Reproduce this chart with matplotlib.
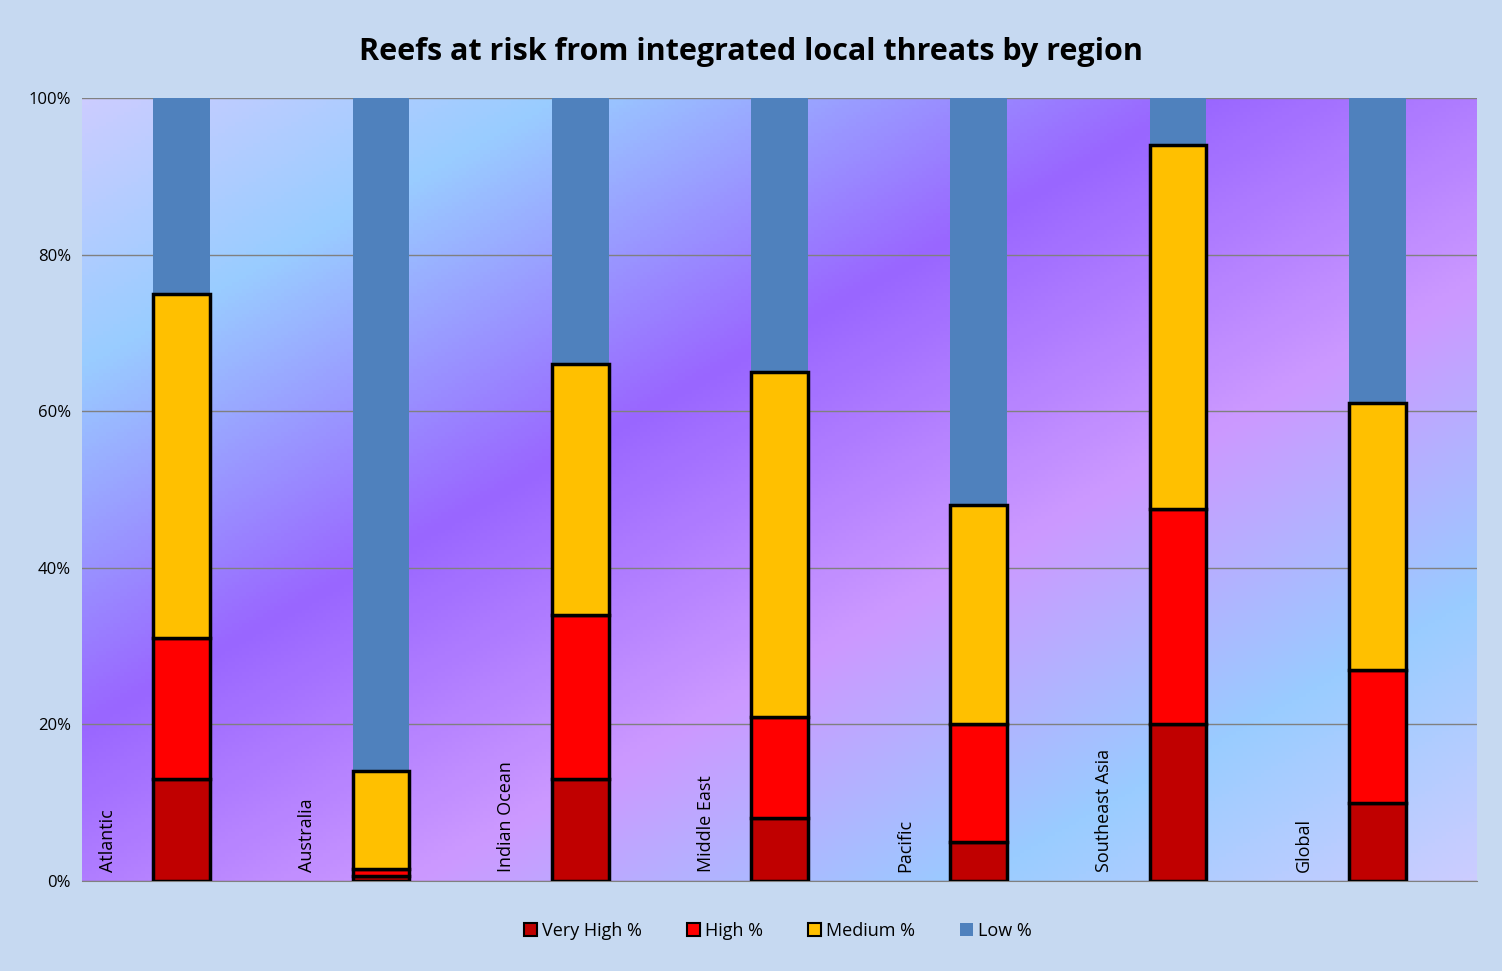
import numpy as np
import matplotlib
matplotlib.use("Agg")
import matplotlib.pyplot as plt
from matplotlib.colors import LinearSegmentedColormap
from matplotlib.patches import Patch

regions = ["Atlantic", "Australia", "Indian Ocean", "Middle East", "Pacific", "Southeast Asia", "Global"]
very_high = [13, 0.6, 13, 8, 5, 20, 10]
high = [18, 0.9, 21, 13, 15, 27.5, 17]
medium = [44, 12.5, 32, 44, 28, 46.5, 34]
low = [25, 86, 34, 35, 52, 6, 39]

plt.rcParams['font.family'] = ['Open Sans', 'DejaVu Sans']
fig = plt.figure(figsize=(15.02, 9.71), dpi=100)
fig.patch.set_facecolor('#c6d9f1')
ax = fig.add_axes([82/1502, 1-881/971, 1395/1502, 783/971])

# gradient background
W, H = 400, 225
xx, yy = np.meshgrid(np.linspace(0, 1, W), np.linspace(0, 1, H))
t = (xx + yy) / 2  # yy from top
cmap = LinearSegmentedColormap.from_list('bg', [(0, '#ccccff'), (0.17, '#99ccff'), (0.4, '#9966ff'),
                                               (0.62, '#cc99ff'), (0.82, '#99ccff'), (1, '#ccccff')])
ax.imshow(t, cmap=cmap, extent=[-0.5, 6.5, 0, 100], aspect='auto', origin='upper', zorder=0)

x = np.arange(len(regions))
w = 0.285
vh = np.array(very_high); h = np.array(high); m = np.array(medium); l = np.array(low)
ax.bar(x, vh, w, color='#c00000', edgecolor='black', linewidth=2.5, zorder=3, label='Very High %')
ax.bar(x, h, w, bottom=vh, color='#ff0000', edgecolor='black', linewidth=2.5, zorder=3, label='High %')
ax.bar(x, m, w, bottom=vh+h, color='#ffc000', edgecolor='black', linewidth=2.5, zorder=3, label='Medium %')
ax.bar(x, l, w, bottom=vh+h+m, color='#4f81bd', zorder=2, label='Low %')

for xi, name in zip(x, regions):
    ax.text(xi - 0.37, 1.2, name, rotation=90, ha='center', va='bottom', fontsize=13, zorder=4)

ax.set_xlim(-0.5, 6.5)
ax.set_ylim(0, 100)
ax.set_yticks(range(0, 101, 20))
ax.set_yticklabels([f"{v}%" for v in range(0, 101, 20)], fontsize=12)
ax.set_xticks([])
ax.yaxis.grid(True, color='#808080', linewidth=1, zorder=1)
ax.set_axisbelow(True)
for s in ['top', 'right', 'left']:
    ax.spines[s].set_visible(False)
ax.spines['bottom'].set_color('#808080')
ax.tick_params(axis='y', length=0, pad=8)

fig.suptitle("Reefs at risk from integrated local threats by region", fontsize=22,
             fontweight='bold', y=1-52/971, va='center')
handles = [Patch(facecolor='#c00000', edgecolor='black', lw=1.5), Patch(facecolor='#ff0000', edgecolor='black', lw=1.5),
           Patch(facecolor='#ffc000', edgecolor='black', lw=1.5), Patch(facecolor='#4f81bd')]
fig.legend(handles, ['Very High %', 'High %', 'Medium %', 'Low %'], loc='center', ncol=4,
           bbox_to_anchor=(778/1502, 1-931/971), frameon=False, fontsize=13,
           handlelength=0.7, handleheight=0.7, columnspacing=2.5, handletextpad=0.3)
fig.savefig('out.png', facecolor=fig.get_facecolor())
